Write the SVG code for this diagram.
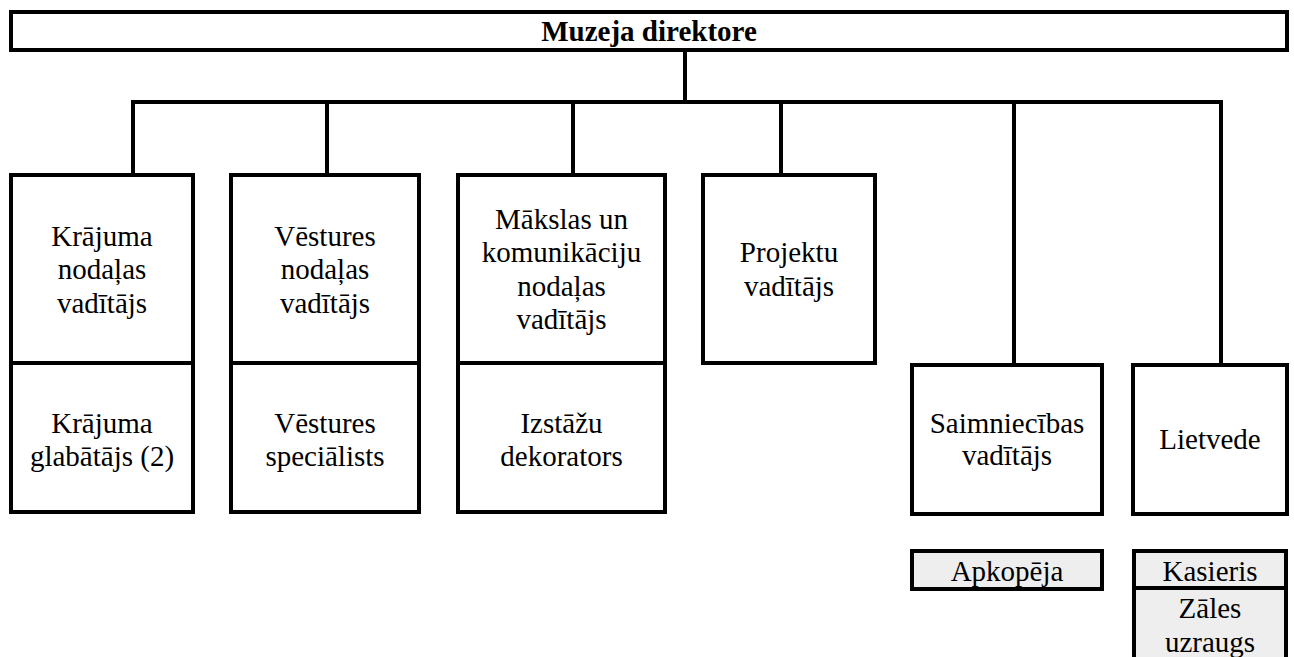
<svg xmlns="http://www.w3.org/2000/svg" width="1294" height="657" viewBox="0 0 1294 657">
<style>
.box{fill:#ffffff;stroke:#000;stroke-width:4}
.sub{fill:#eeeeee;stroke:#000;stroke-width:4}
.ln{stroke:#000;stroke-width:4;fill:none}
text{font-family:'Liberation Serif','Times New Roman',Tinos,Times,'DejaVu Serif',serif;font-size:29px;fill:#000;text-anchor:middle}
.b{font-weight:bold}
</style>
<rect x="0" y="0" width="1294" height="657" fill="#ffffff"/>
<g id="connectors">
<line class="ln" x1="685" y1="50" x2="685" y2="102"/>
<line class="ln" x1="131" y1="102" x2="1223" y2="102"/>
<line class="ln" x1="133" y1="100" x2="133" y2="175"/>
<line class="ln" x1="327" y1="100" x2="327" y2="175"/>
<line class="ln" x1="573" y1="100" x2="573" y2="175"/>
<line class="ln" x1="781" y1="100" x2="781" y2="175"/>
<line class="ln" x1="1014" y1="100" x2="1014" y2="365"/>
<line class="ln" x1="1221" y1="100" x2="1221" y2="365"/>
</g>
<g id="n-director">
<rect class="box" x="11" y="12" width="1276" height="38"/>
<text class="b" x="649" y="41">Muzeja direktore</text>
</g>
<g id="n-krajuma-vad">
<rect class="box" x="11" y="175" width="182" height="188"/>
<text x="102" y="246">Krājuma</text>
<text x="102" y="279">nodaļas</text>
<text x="102" y="313">vadītājs</text>
</g>
<g id="n-krajuma-glab">
<rect class="box" x="11" y="363" width="182" height="149"/>
<text x="102" y="433">Krājuma</text>
<text x="102" y="466">glabātājs (2)</text>
</g>
<g id="n-vestures-vad">
<rect class="box" x="231" y="175" width="188" height="188"/>
<text x="325" y="246">Vēstures</text>
<text x="325" y="279">nodaļas</text>
<text x="325" y="313">vadītājs</text>
</g>
<g id="n-vestures-spec">
<rect class="box" x="231" y="363" width="188" height="149"/>
<text x="325" y="433">Vēstures</text>
<text x="325" y="466">speciālists</text>
</g>
<g id="n-makslas-vad">
<rect class="box" x="458" y="175" width="207" height="188"/>
<text x="561.5" y="229">Mākslas un</text>
<text x="561.5" y="262">komunikāciju</text>
<text x="561.5" y="296">nodaļas</text>
<text x="561.5" y="329">vadītājs</text>
</g>
<g id="n-izstazu">
<rect class="box" x="458" y="363" width="207" height="149"/>
<text x="561.5" y="433">Izstāžu</text>
<text x="561.5" y="466">dekorators</text>
</g>
<g id="n-projektu">
<rect class="box" x="703" y="175" width="172" height="188"/>
<text x="789" y="262">Projektu</text>
<text x="789" y="296">vadītājs</text>
</g>
<g id="n-saimniecibas">
<rect class="box" x="912" y="365" width="190" height="149"/>
<text x="1007" y="433">Saimniecības</text>
<text x="1007" y="465">vadītājs</text>
</g>
<g id="n-lietvede">
<rect class="box" x="1133" y="365" width="154" height="149"/>
<text x="1210" y="449">Lietvede</text>
</g>
<g id="n-apkopeja">
<rect class="sub" x="912" y="551" width="190" height="38"/>
<text x="1007" y="581">Apkopēja</text>
</g>
<g id="n-kasieris">
<rect class="sub" x="1134" y="551" width="152" height="37"/>
<text x="1210" y="581">Kasieris</text>
</g>
<g id="n-zales">
<rect class="sub" x="1134" y="588" width="152" height="90"/>
<text x="1210" y="618">Zāles</text>
<text x="1210" y="652">uzraugs</text>
</g>
</svg>
